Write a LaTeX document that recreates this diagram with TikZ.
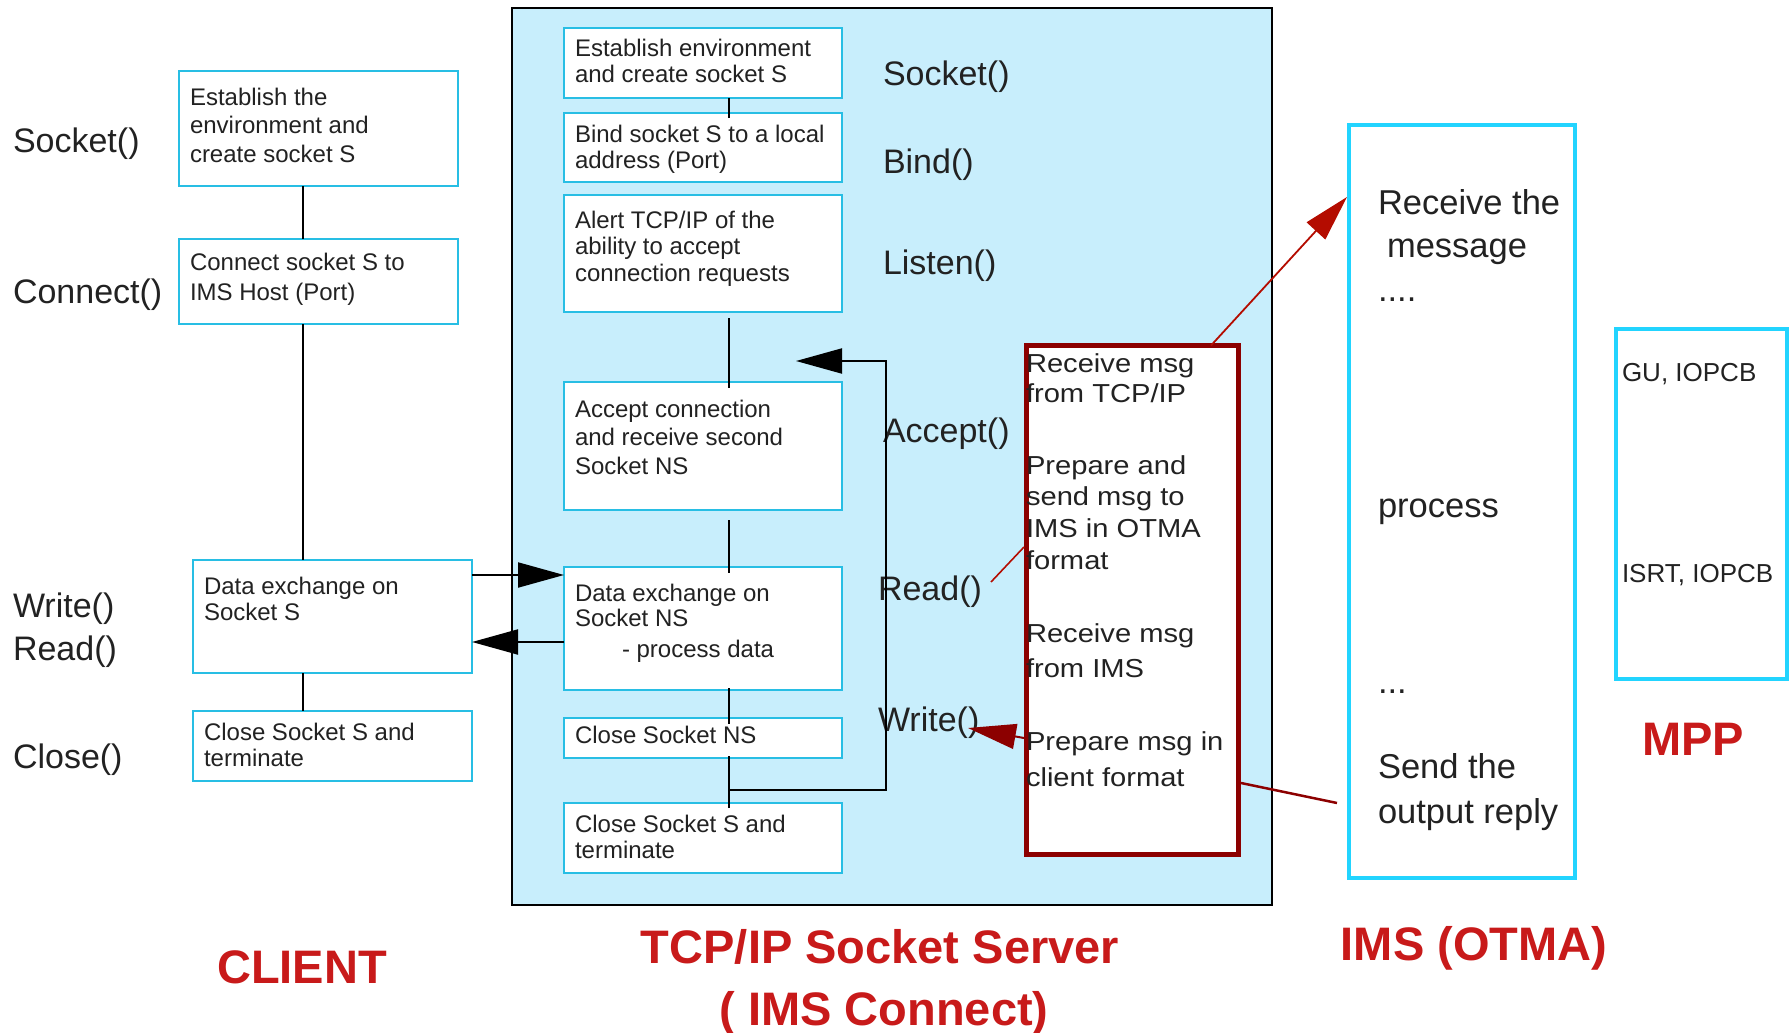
\documentclass[tikz,border=0pt]{standalone}
\usepackage{fontspec}
\setmainfont{Liberation Sans}
\newfontfamily\widesans[FakeStretch=1.12]{Liberation Sans}
\usetikzlibrary{arrows.meta,calc}
\definecolor{boxc}{RGB}{40,190,228}
\definecolor{imsc}{RGB}{34,212,255}
\definecolor{srvfill}{RGB}{200,238,252}
\definecolor{dred}{RGB}{140,0,0}
\definecolor{ared}{RGB}{180,12,0}
\definecolor{tred}{RGB}{200,26,26}
\definecolor{txt}{RGB}{34,34,34}
\begin{document}
\begin{tikzpicture}[x=1pt,y=-1pt,
  every node/.style={text=txt, inner sep=0pt, outer sep=0pt},
  sbox/.style={draw=boxc, line width=2pt, fill=white, anchor=north west},
  bbox/.style={draw=imsc, line width=4pt, fill=white, anchor=north west},
  bt/.style={anchor=north west, align=left, font=\fontsize{24}{#1}\selectfont},
  bt/.default=26.5,
  rt/.style={anchor=north west, align=left, font=\widesans\fontsize{26}{#1}\selectfont},
  it/.style={anchor=north west, align=left, font=\fontsize{34.5}{#1}\selectfont},
  mt/.style={anchor=base west, font=\fontsize{26}{30}\selectfont},
  lbl/.style={anchor=base west, font=\fontsize{34}{40}\selectfont},
  ttl/.style={anchor=base, text=tred, font=\fontsize{47}{52}\selectfont\bfseries},
  conn/.style={draw=black, line width=2pt},
  bigarrow/.style={conn, -{Triangle[length=46pt,width=25pt]}},
  redarrow/.style={draw=ared, line width=1.8pt, -{Triangle[length=46pt,width=25pt]}},
  wrarrow/.style={draw=dred, line width=2pt, -{Triangle[length=48pt,width=25pt]}},
]
\useasboundingbox (0,0) rectangle (1792,1033);
\fill[white] (0,0) rectangle (1792,1033);

% server background
\node[draw=black, line width=2pt, fill=srvfill, anchor=north west,
      minimum width=760pt, minimum height=897pt] (srv) at (512,8) {};

% client boxes
\node[sbox, minimum width=279pt, minimum height=115pt] (c1) at (179,71) {};
\node[sbox, minimum width=279pt, minimum height=85pt]  (c2) at (179,239) {};
\node[sbox, minimum width=279pt, minimum height=113pt] (c3) at (193,560) {};
\node[sbox, minimum width=279pt, minimum height=70pt]  (c4) at (193,711) {};

% server boxes
\node[sbox, minimum width=278pt, minimum height=70pt]  (s1) at (564,28) {};
\node[sbox, minimum width=278pt, minimum height=69pt]  (s2) at (564,113) {};
\node[sbox, minimum width=278pt, minimum height=117pt] (s3) at (564,195) {};
\node[sbox, minimum width=278pt, minimum height=128pt] (s4) at (564,382) {};
\node[sbox, minimum width=278pt, minimum height=123pt] (s5) at (564,567) {};
\node[sbox, minimum width=278pt, minimum height=40pt]  (s6) at (564,718) {};
\node[sbox, minimum width=278pt, minimum height=70pt]  (s7) at (564,803) {};

% red box, IMS box, MPP box
\node[draw=dred, line width=5pt, fill=white, anchor=north west,
      minimum width=212pt, minimum height=509pt] (rb) at (1026.5,345.5) {};
\node[bbox, minimum width=226pt, minimum height=753pt] (ims) at (1349,125) {};
\node[bbox, minimum width=171pt, minimum height=350pt] (mpp) at (1616,329) {};

% box texts (client)
\node[bt=28.5] (tc1) at (190,85) {\rule{0pt}{20pt}Establish the\\environment and\\create socket S};
\node[bt=30]   (tc2) at (190,250) {\rule{0pt}{20pt}Connect socket S to\\IMS Host (Port)};
\node[bt=26]   (tc3) at (204,574) {\rule{0pt}{20pt}Data exchange on\\Socket S};
\node[bt=26]   (tc4) at (204,720) {\rule{0pt}{20pt}Close Socket S and\\terminate};

% box texts (server)
\node[bt=26]   (ts1) at (575,37) {\rule{0pt}{20pt}Establish environment\\and create socket S};
\node[bt=26]   (ts2) at (575,122) {\rule{0pt}{20pt}Bind socket S to a local\\address (Port)};
\node[bt=26.5] (ts3) at (575,208) {\rule{0pt}{20pt}Alert TCP/IP of the\\ability to accept\\connection requests};
\node[bt=28.5] (ts4) at (575,397) {\rule{0pt}{20pt}Accept connection\\and receive second\\Socket NS};
\node[bt=25]   (ts5) at (575,581) {\rule{0pt}{20pt}Data exchange on\\Socket NS\\[6pt]\hspace*{47pt}- process data};
\node[bt]      (ts6) at (575,723) {\rule{0pt}{20pt}Close Socket NS};
\node[bt=26]   (ts7) at (575,812) {\rule{0pt}{20pt}Close Socket S and\\terminate};

% client labels
\node[lbl] (lsock) at (13,152) {Socket()};
\node[lbl] (lconn) at (13,303) {Connect()};
\node[lbl] (lwrite) at (13,617) {Write()};
\node[lbl] (lread) at (13,660) {Read()};
\node[lbl] (lclose) at (13,768) {Close()};

% server labels
\node[lbl] (vsock) at (883,85) {Socket()};
\node[lbl] (vbind) at (883,173) {Bind()};
\node[lbl] (vlist) at (883,274) {Listen()};
\node[lbl] (vacc) at (883,442) {Accept()};
\node[lbl] (vread) at (878,600) {Read()};
\node[lbl] (vwrite) at (878,731) {Write()};

% red box texts
\node[rt=30]   (r1) at (1026,350) {\rule{0pt}{22pt}Receive msg\\from TCP/IP};
\node[rt=31.7] (r2) at (1026,452) {\rule{0pt}{22pt}Prepare and\\send msg to\\IMS in OTMA\\format};
\node[rt=35]   (r3) at (1026,620) {\rule{0pt}{22pt}Receive msg\\from IMS};
\node[rt=36]   (r4) at (1026,728) {\rule{0pt}{22pt}Prepare msg in\\client format};

% IMS texts
\node[it=43.5] (i1) at (1378,186) {\rule{0pt}{28pt}Receive the\\\hspace*{9pt}message\\....};
\node[it=40]   (i2) at (1378,489) {\rule{0pt}{28pt}process};
\node[it=40]   (i3) at (1378,665) {\rule{0pt}{28pt}...};
\node[it=45]   (i4) at (1378,750) {\rule{0pt}{28pt}Send the\\output reply};

% MPP texts
\node[mt] (m1) at (1622,381) {GU, IOPCB};
\node[mt] (m2) at (1622,582) {ISRT, IOPCB};

% titles
\node[ttl] (tclient) at (302,983) {CLIENT};
\node[ttl] (tsrv1) at (880,963) {TCP/IP Socket Server};
\node[ttl] (tsrv2) at (884,1025) {( IMS Connect)};
\node[ttl] (tims) at (1474,960) {IMS (OTMA)};
\node[ttl] (tmpp) at (1693,755) {MPP};

% client vertical connectors
\coordinate (cl) at (303,0);
\draw[conn] (c1.south -| cl) -- (c2.north -| cl);
\draw[conn] (c2.south -| cl) -- (c3.north -| cl);
\draw[conn] (c3.south -| cl) -- (c4.north -| cl);

% server vertical connectors
\coordinate (sl) at (729,0);
\draw[conn] (s1.south -| sl) -- ($(s2.north -| sl)+(0,5)$);
\draw[conn] ($(s3.south -| sl)+(0,6)$) -- ($(s4.north -| sl)+(0,6)$);
\draw[conn] ($(s4.south -| sl)+(0,10)$) -- ($(s5.north -| sl)+(0,6)$);
\draw[conn] ($(s5.south -| sl)+(0,-2)$) -- ($(s6.north -| sl)+(0,6)$);
\draw[conn] ($(s6.south -| sl)+(0,-2)$) -- ($(s7.north -| sl)+(0,5)$);

% loop back to accept
\coordinate (jn) at (729,790);
\coordinate (lp) at (886,361);
\coordinate (ret) at (796,361);
\draw[bigarrow] (jn) -| (lp) -- (ret);

% client <-> server data exchange
\coordinate (ya) at (0,575);
\coordinate (yb) at (0,642);
\draw[bigarrow] (c3.east |- ya) -- (s5.west |- ya);
\draw[bigarrow] (s5.west |- yb) -- (c3.east |- yb);

% red connectors
\coordinate (rx1) at (1211,0);
\coordinate (ry1) at (0,197);
\draw[redarrow] (rb.north -| rx1) -- ($(ims.west |- ry1)+(-2,0)$);
\coordinate (rd) at (991,582);
\coordinate (ry2) at (0,547);
\draw[draw=ared, line width=1.6pt] (rd) -- ($(rb.west |- ry2)+(-2.5,0)$);
\coordinate (wt) at (968,728);
\coordinate (ry3) at (0,738);
\draw[wrarrow] ($(rb.west |- ry3)+(-2.5,0)$) -- (wt);
\coordinate (ry4) at (0,783);
\coordinate (se) at (1337,803);
\draw[draw=dred, line width=2.5pt] ($(rb.east |- ry4)+(2.5,0)$) -- (se);
\end{tikzpicture}
\end{document}
